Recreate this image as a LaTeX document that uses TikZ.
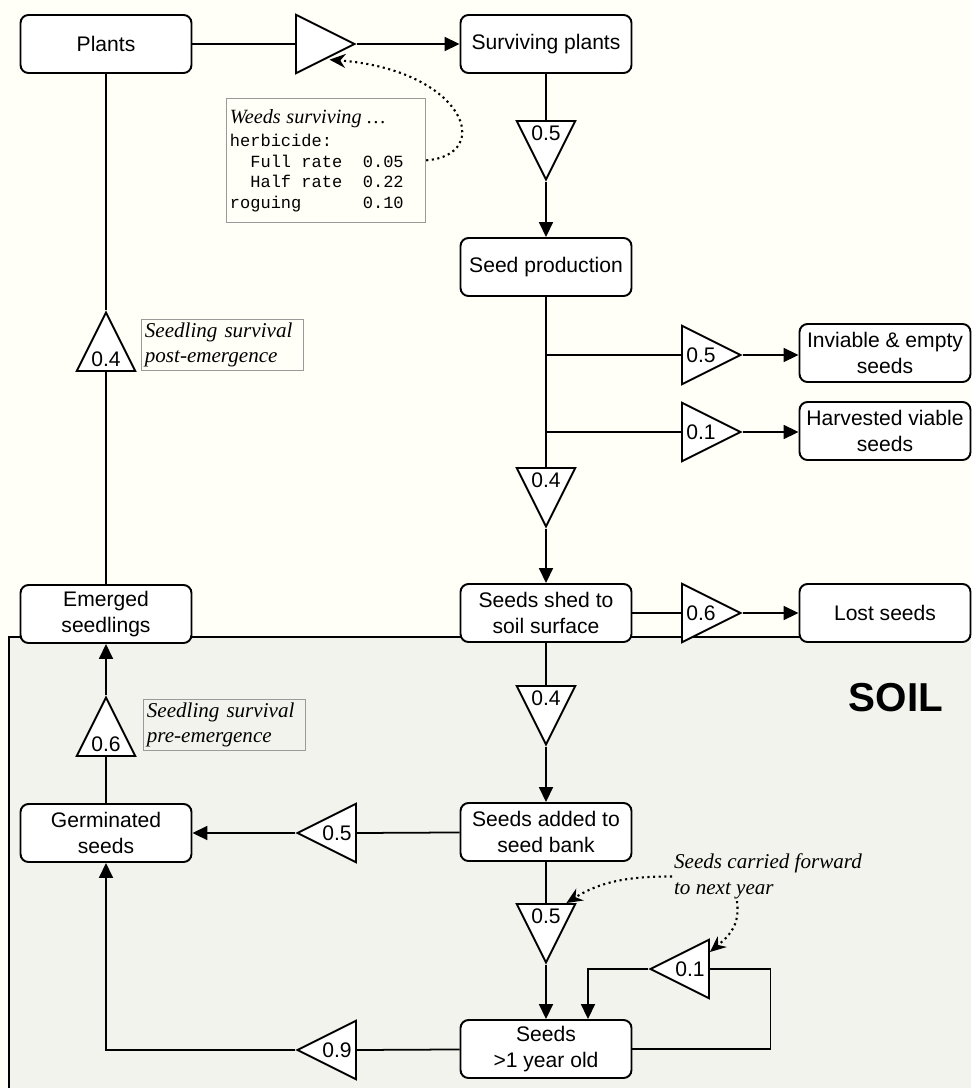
\documentclass[tikz,border=0pt]{standalone}
\usepackage{fontspec}
\setmainfont{Liberation Sans}
\setmonofont{Liberation Mono}
\newfontfamily\notefont{Liberation Serif}
\usepackage{tikz}
\usetikzlibrary{positioning,arrows.meta,calc,shapes.geometric}
\definecolor{papercream}{HTML}{FFFFF8}
\definecolor{soilgray}{HTML}{F3F3EE}
\definecolor{notegray}{HTML}{9A9A9A}
\newcommand{\gap}[1]{\phantom{#1}}

\begin{document}
\begin{tikzpicture}[x=0.02cm, y=-0.02cm,
  box/.style={draw, rounded corners=0.16cm, fill=white, align=center, font=\fontsize{12}{15}\selectfont,
              minimum width=3.42cm, minimum height=1.16cm, line width=1.1pt, inner sep=1pt},
  tri/.style={draw, isosceles triangle, isosceles triangle stretches, minimum width=1.17cm, minimum height=1.17cm,
              inner sep=0pt, fill=white, line width=1.1pt, font=\fontsize{12}{14}\selectfont},
  lin/.style={line width=1pt},
  arr/.style={lin, -{Triangle[length=3mm, width=2.8mm]}},
  dotarr/.style={dotted, line width=1.2pt, -{Stealth[length=3.2mm, width=2.8mm]}},
  note/.style={draw=notegray, thin, align=left, inner sep=2pt, text width=3.1cm,
               font=\notefont\itshape\fontsize{12}{14.5}\selectfont},
  plainnote/.style={align=left, inner sep=1pt, font=\notefont\itshape\fontsize{12}{14.5}\selectfont},
]
\useasboundingbox (0,0) rectangle (971,1088);
\fill[papercream] (0,0) rectangle (971,1088);
\fill[soilgray] (9,637) rectangle (971,1088);
\draw[line width=0.8pt] (9,1088) -- (9,637) -- (971,637);

\node[box] (plants)  at (106,44)  {Plants};
\node[box] (surv)    at (546,44)  {Surviving plants};
\node[box] (seedp)   at (546,267) {Seed production};
\node[box] (inv)     at (885,353) {Inviable \& empty\\seeds};
\node[box] (harv)    at (885,431) {Harvested viable\\seeds};
\node[box] (shed)    at (546,613) {Seeds shed to\\soil surface};
\node[box] (lost)    at (885,613) {Lost seeds};
\node[box] (added)   at (546,832) {Seeds added to\\seed bank};
\node[box] (old)     at (546,1049) {Seeds\\>1 year old};
\node[box] (emerged) at (106,614) {Emerged\\seedlings};
\node[box] (germ)    at (106,833) {Germinated\\seeds};

\node[tri, shape border rotate=0,   anchor=apex] (wtri) at (357,44)   {};
\node[tri, shape border rotate=270, anchor=apex] (ptri) at (546,182)  {0.5};
\node[tri, shape border rotate=0,   anchor=apex] (itri) at (743,355)  {0.5};
\node[tri, shape border rotate=0,   anchor=apex] (htri) at (743,432)  {0.1};
\node[tri, shape border rotate=270, anchor=apex] (stri) at (546,529)  {0.4};
\node[tri, shape border rotate=0,   anchor=apex] (ltri) at (743,613)  {0.6};
\node[tri, shape border rotate=270, anchor=apex] (atri) at (546,747)  {0.4};
\node[tri, shape border rotate=180, anchor=apex] (gtri) at (295,833)  {0.5};
\node[tri, shape border rotate=270, anchor=apex] (ctri) at (546,965)  {0.5};
\node[tri, shape border rotate=180, anchor=apex] (otri) at (648,969)  {0.1};
\node[tri, shape border rotate=180, anchor=apex] (ntri) at (295,1050) {0.9};
\node[tri, shape border rotate=90,  anchor=apex] (etri) at (106,695)  {0.6};
\node[tri, shape border rotate=90,  anchor=apex] (qtri) at (106,310)  {0.4};

\coordinate (brA) at (546,355);
\coordinate (brB) at (546,432);

\draw[lin] (plants) -- (wtri.lower side);
\draw[arr] (wtri.apex) -- (surv);
\draw[lin] (surv) -- (ptri.lower side);
\draw[arr] (ptri.apex) -- (seedp);
\draw[lin] (seedp) -- (stri.lower side);
\draw[lin] (brA) -- (itri.lower side);
\draw[arr] (itri.apex) -- (itri.apex -| inv.west);
\draw[lin] (brB) -- (htri.lower side);
\draw[arr] (htri.apex) -- (htri.apex -| harv.west);
\draw[arr] (stri.apex) -- (shed);
\draw[lin] (shed) -- (ltri.lower side);
\draw[arr] (ltri.apex) -- (lost);
\draw[lin] (shed) -- (atri.lower side);
\draw[arr] (atri.apex) -- (added);
\draw[lin] (added) -- (gtri.lower side);
\draw[arr] (gtri.apex) -- (germ);
\draw[lin] (added) -- (ctri.lower side);
\draw[arr] (ctri.apex) -- (old);
\draw[lin] (old.east) -- ++(138,0) |- (otri.lower side);
\draw[arr] (otri.apex) -| ([xshift=0.84cm]old.north);
\draw[lin] (old) -- (ntri.lower side);
\draw[arr] (ntri.apex) -| (germ);
\draw[lin] (germ) -- (etri.lower side);
\draw[arr] (etri.apex) -- (emerged);
\draw[lin] (emerged) -- (qtri.lower side);
\draw[lin] (qtri.apex) -- (plants);

\node[note, anchor=west] (postnote) at (141,345) {Seedling survival\\post-emergence};
\node[note, anchor=west] (prenote)  at (143,725) {Seedling survival\\pre-emergence};
\node[note, anchor=north west, text width=3.85cm, minimum height=2.48cm,
      font=\fontsize{9.7}{11.6}\selectfont] (weednote) at (226,98)
  {\mbox{\notefont\itshape\fontsize{11.5}{14}\selectfont Weeds surviving \dots}\\[2pt]
   \texttt{herbicide:}\\
   \texttt{\gap{xx}Full\gap{x}rate\gap{xx}0.05}\\
   \texttt{\gap{xx}Half\gap{x}rate\gap{xx}0.22}\\
   \texttt{roguing\gap{xxxxxx}0.10}};
\node[plainnote, anchor=north west] (carrynote) at (672,852) {Seeds carried forward\\to next year};
\node[font=\fontsize{23}{25}\selectfont\bfseries] (soil) at (896,698) {SOIL};

\draw[dotarr, shorten >=2pt] (weednote.east) .. controls (495,155) and (465,70) .. (wtri.right side);
\draw[dotarr] (carrynote.west) .. controls (620,876) and (595,885) .. (ctri);
\draw[dotarr] ([xshift=1.3cm]carrynote.south west) .. controls (740,925) and (730,935) .. (otri);
\end{tikzpicture}
\end{document}
